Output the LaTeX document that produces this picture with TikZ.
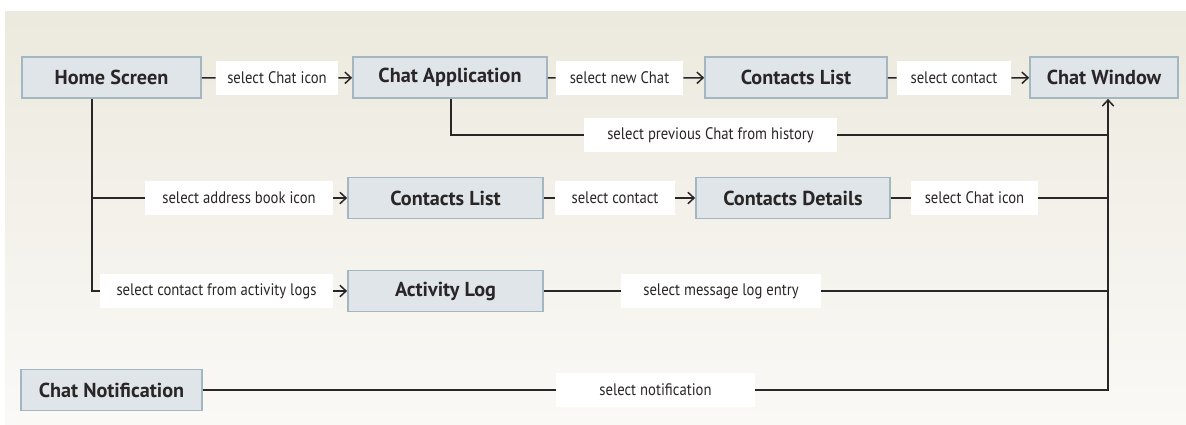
\documentclass[tikz,border=0pt]{standalone}
\usepackage{fontspec}
\setmainfont{PT Sans}
\newfontfamily\lblfont[FakeStretch=0.88]{PT Sans}
\newfontfamily\scrfont{PT Sans}
\usepackage{tikz}
\usetikzlibrary{positioning,arrows.meta}

\definecolor{bgtop}{HTML}{ECE9DE}
\definecolor{bgbot}{HTML}{FAF9F6}
\definecolor{scrfill}{HTML}{DFE5E8}
\definecolor{scrline}{HTML}{A4B6BF}
\definecolor{ink}{HTML}{2A2526}

\tikzset{
  screen/.style={draw=scrline, line width=1pt, fill=scrfill, minimum height=0.82cm,
                 inner sep=0pt, text=ink, font=\scrfont\bfseries\fontsize{11.5}{13}\selectfont},
  action/.style={fill=white, minimum height=0.68cm, inner sep=0pt, text=ink,
                 font=\lblfont\fontsize{9.5}{11}\selectfont},
  flow/.style={draw=ink, line width=0.85pt},
  >={Straight Barb[length=3.5pt,width=6.5pt]}
}

\begin{document}
\begin{tikzpicture}[x=0.02cm,y=-0.02cm]
                \useasboundingbox (0,0) rectangle (1186,424);
                \fill[top color=bgtop, bottom color=bgbot] (5,11) rectangle (1186,424);

                % top row
                \node[screen, minimum width=3.58cm] (home)     at (111.5,77.5) {Home Screen};
                \node[action, minimum width=2.44cm] (selchatA) at (277,78)     {select Chat icon};
                \node[screen, minimum width=3.88cm] (chatapp)  at (450,77.5)   {Chat Application};
                \node[action, minimum width=2.54cm] (selnew)   at (619.5,78)   {select new Chat};
                \node[screen, minimum width=3.64cm] (clistA)   at (796,77.5)   {Contacts List};
                \node[action, minimum width=2.28cm] (selcontA) at (954,78)     {select contact};
                \node[screen, minimum width=2.96cm] (chatwin)  at (1104,77.5)  {Chat Window};

                \node[action, minimum width=5.06cm] (selhist)  at (710.5,135)  {select previous Chat from history};

                % address book row
                \node[action, minimum width=3.76cm] (seladdr)  at (239,198)    {select address book icon};
                \node[screen, minimum width=3.9cm]  (clistB)   at (445.5,198)  {Contacts List};
                \node[action, minimum width=2.4cm]  (selcontB) at (615,198)    {select contact};
                \node[screen, minimum width=3.88cm] (cdetail)  at (793,198)    {Contacts Details};
                \node[action, minimum width=2.54cm] (selchatB) at (974.5,198)  {select Chat icon};

                % activity log row
                \node[action, minimum width=4.66cm] (sellog)   at (216.5,291)  {select contact from activity logs};
                \node[screen, minimum width=3.9cm]  (actlog)   at (445.5,291)  {Activity Log};
                \node[action, minimum width=4cm]    (selentry) at (721,291)    {select message log entry};

                % notification row
                \node[screen, minimum width=3.62cm] (notif)    at (111.5,390)  {Chat Notification};
                \node[action, minimum width=3.98cm] (selnotif) at (655.5,390)  {select notification};

                \coordinate (split) at (92,291);
                \coordinate (bus)   at (1108,390);

                \path[flow]
                (home)     edge (selchatA)
                (chatapp)  edge (selnew)
                (clistA)   edge (selcontA)
                (clistB)   edge (selcontB)
                (cdetail)  edge (selchatB)
                (actlog)   edge (selentry)
                (notif)    edge (selnotif);

                \path[flow,->]
                (selchatA) edge (chatapp)
                (selnew)   edge (clistA)
                (selcontA) edge (chatwin)
                (seladdr)  edge (clistB)
                (selcontB) edge (cdetail)
                (sellog)   edge (actlog);

                \draw[flow] (home.south -| split) -- (split) -- (sellog);
                \draw[flow] (seladdr) -- (seladdr -| split);
                \draw[flow] (chatapp.south -| 451,0) |- (selhist);
                \draw[flow] (selhist) -- (selhist -| bus);
                \draw[flow] (selchatB) -- (selchatB -| bus);
                \draw[flow] (selentry) -- (selentry -| bus);
                \draw[flow,->] (selnotif) -- (bus) -- (chatwin.south -| bus);
            \end{tikzpicture}
\end{document}
